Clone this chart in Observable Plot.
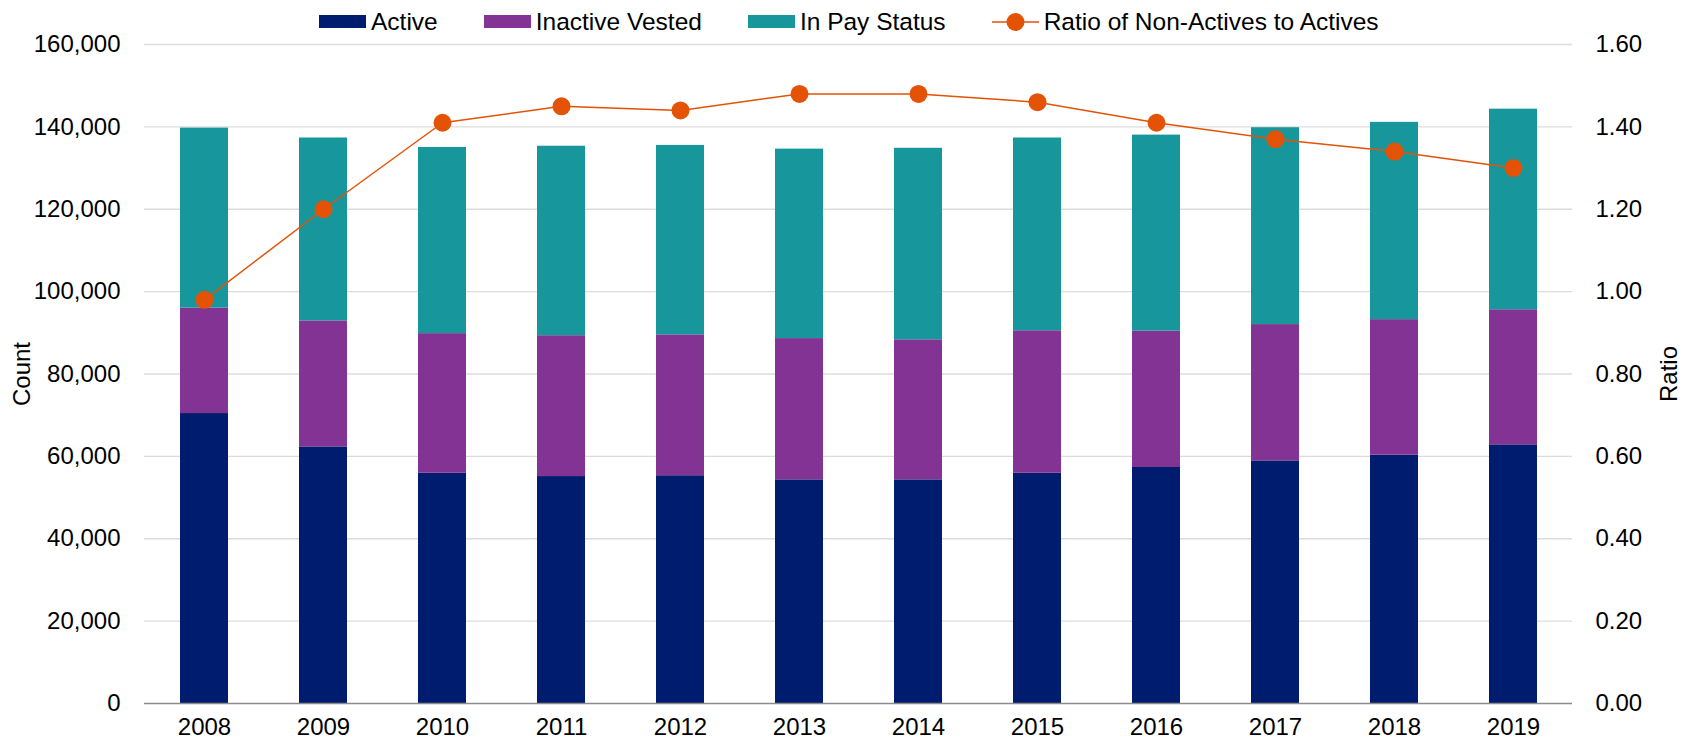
<!DOCTYPE html>
<html><head><meta charset="utf-8">
<script src="https://cdn.jsdelivr.net/npm/d3@7"></script>
<script src="https://cdn.jsdelivr.net/npm/@observablehq/plot@0.6"></script>
<style>
html,body{margin:0;padding:0;background:#fff;overflow:hidden;}
body{font-family:"Liberation Sans",Arial,sans-serif;color:#000;}
#legend{position:relative;height:22px;width:1689px;font-size:24.5px;}
#legend .row{position:absolute;left:319px;top:0;height:43px;display:flex;align-items:center;gap:46px;white-space:nowrap;}
#legend .item{display:flex;align-items:center;}
#legend .sw{width:47px;height:13px;margin-right:5px;}
#legend svg.ln{margin-right:5px;}
svg{overflow:visible;}
</style></head>
<body>
<div id="legend"></div>
<div id="chart"></div>
<script>
const years = ["2008","2009","2010","2011","2012","2013","2014","2015","2016","2017","2018","2019"];
const active   = [70400, 62300, 55900, 55100, 55300, 54300, 54300, 55900, 57300, 58900, 60300, 62800];
const inactiveVested = [25600, 30600, 33900, 34200, 34200, 34300, 34000, 34600, 33100, 33100, 32900, 32800];
const inPayStatus    = [43700, 44400, 45200, 46000, 46000, 46000, 46500, 46800, 47600, 47800, 47900, 48700];
const ratio = [0.98, 1.20, 1.41, 1.45, 1.44, 1.48, 1.48, 1.46, 1.41, 1.37, 1.34, 1.30];
const seriesNames = ["Active", "Inactive Vested", "In Pay Status"];
const seriesColors = ["#001C6E", "#833393", "#17979C"];
const lineName = "Ratio of Non-Actives to Actives";
const lineColor = "#E35205";
const countTicks = [0, 20000, 40000, 60000, 80000, 100000, 120000, 140000, 160000];
const ratioMax = 1.6, countMax = 160000;

// legend
const legend = document.querySelector("#legend");
const row = document.createElement("div"); row.className = "row";
seriesNames.forEach((n, i) => {
  const it = document.createElement("div"); it.className = "item";
  it.innerHTML = `<div class="sw" style="background:${seriesColors[i]}"></div><span>${n}</span>`;
  row.appendChild(it);
});
{
  const it = document.createElement("div"); it.className = "item";
  it.innerHTML = `<svg class="ln" width="47" height="20"><line x1="0" y1="10" x2="47" y2="10" stroke="${lineColor}" stroke-width="1.5"/><circle cx="23.5" cy="10" r="9" fill="${lineColor}"/></svg><span>${lineName}</span>`;
  row.appendChild(it);
}
legend.appendChild(row);

const rows = years.flatMap((y, i) => [
  {year: y, series: seriesNames[0], value: active[i]},
  {year: y, series: seriesNames[1], value: inactiveVested[i]},
  {year: y, series: seriesNames[2], value: inPayStatus[i]}
]);
const lineRows = years.map((y, i) => ({year: y, ratio: ratio[i], scaled: ratio[i] * countMax / ratioMax}));

const chart = Plot.plot({
  width: 1689, height: 717,
  marginTop: 22, marginBottom: 36, marginLeft: 144, marginRight: 117,
  style: {fontFamily: "'Liberation Sans', Arial, sans-serif", fontSize: "24px", color: "#000", background: "#fff", overflow: "visible"},
  x: {type: "band", domain: years, paddingInner: 0.6, paddingOuter: 0.3, label: null},
  y: {domain: [0, countMax], label: null},
  color: {domain: seriesNames, range: seriesColors},
  marks: [
    Plot.gridY(countTicks.filter(d => d > 0), {stroke: "#dcdcdc", strokeOpacity: 1, strokeWidth: 1.3}),
    Plot.barY(rows, {x: "year", y: "value", fill: "series", order: seriesNames}),
    Plot.ruleY([0], {stroke: "#8c8c8c", strokeWidth: 1.5}),
    Plot.line(lineRows, {x: "year", y: "scaled", stroke: lineColor, strokeWidth: 1.5}),
    Plot.dot(lineRows, {x: "year", y: "scaled", r: 9, fill: lineColor, stroke: "none"}),
    Plot.axisY(countTicks, {anchor: "left", tickSize: 0, tickPadding: 24, tickFormat: d => d3.format(",")(d),
      label: "Count", labelAnchor: "center", labelOffset: 132, labelArrow: "none"}),
    Plot.axisY(countTicks, {anchor: "right", tickSize: 0, tickPadding: 23, tickFormat: d => (d * ratioMax / countMax).toFixed(2),
      label: "Ratio", labelAnchor: "center", labelOffset: 104, labelArrow: "none"}),
    Plot.axisX({tickSize: 0, tickPadding: 14, label: null})
  ]
});
document.querySelector("#chart").appendChild(chart);
</script>
</body></html>
